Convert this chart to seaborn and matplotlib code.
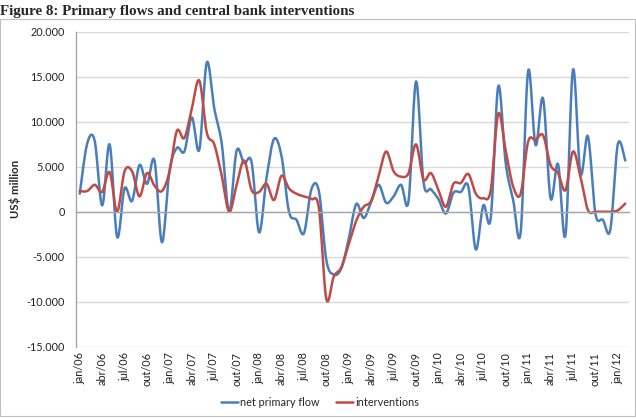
import numpy as np
import pandas as pd
import matplotlib
matplotlib.use("Agg")
import matplotlib.pyplot as plt
from matplotlib.lines import Line2D
from matplotlib.patches import Rectangle
import seaborn as sns

# ---- data (monthly, jan/06 .. feb/12), US$ million ----
net_primary_flow = [
    2000, 7600, 7900, 700, 7500, -2800, 2600, 1200, 5200, 3100, 5700, -3400,
    4500, 7100, 6700, 10500, 6900, 16600, 11500, 7600, 0, 6800, 5400, 5500,
    -2300, 3800, 8100, 6200, 0, -900, -2400, 2500, 2300, -5400, -7000, -6300,
    -3000, 850, -700, 1100, 3000, 1000, 1700, 3000, 1200, 14500, 3300, 2500,
    1400, -200, 2100, 2200, 2800, -4200, 700, -700, 13950, 5400, 1300, -2300,
    15650, 7400, 12600, 1500, 5300, -2600, 15800, 4250, 8400, -200, -900, -2000,
    7500, 5700,
]
interventions = [
    2300, 2300, 3000, 2200, 4400, 0, 4500, 4500, 1700, 4300, 2900, 2300,
    4400, 9000, 8200, 11500, 14600, 8800, 7500, 4000, 0, 3000, 5700, 2400,
    2200, 3100, 1300, 4000, 2600, 2000, 1700, 1400, 400, -9700, -7200, -6200,
    -3600, -1000, 550, 1200, 4000, 6700, 4500, 3900, 4300, 7500, 3600, 4300,
    2400, 550, 3100, 3200, 4200, 2000, 1500, 2400, 10900, 6800, 2800, 2000,
    7800, 8000, 8500, 5200, 4300, 2400, 6700, 3900, 200, 0, 0, 0,
    150, 900,
]
tick_labels = [
    "jan/06", "abr/06", "jul/06", "out/06", "jan/07", "abr/07", "jul/07", "out/07",
    "jan/08", "abr/08", "jul/08", "out/08", "jan/09", "abr/09", "jul/09", "out/09",
    "jan/10", "abr/10", "jul/10", "out/10", "jan/11", "abr/11", "jul/11", "out/11",
    "jan/12",
]
series_names = ["net primary flow", "interventions"]
colors = ["#4A7EBB", "#BE4B48"]


def smooth(y, n=16):
    """Excel-like smoothed line (Bezier with Catmull-Rom control points)."""
    x = np.arange(len(y), dtype=float)
    p = np.column_stack([x, np.asarray(y, dtype=float)])
    out = []
    t = np.linspace(0, 1, n, endpoint=False)[:, None]
    for i in range(len(p) - 1):
        p0 = p[i - 1] if i > 0 else p[i]
        p1, p2 = p[i], p[i + 1]
        p3 = p[i + 2] if i + 2 < len(p) else p[i + 1]
        c1 = p1 + (p2 - p0) / 6.0
        c2 = p2 - (p3 - p1) / 6.0
        seg = ((1 - t) ** 3) * p1 + 3 * ((1 - t) ** 2) * t * c1 + 3 * (1 - t) * t ** 2 * c2 + t ** 3 * p2
        out.append(seg)
    out.append(p[-1][None, :])
    return np.vstack(out)


frames = []
for name, vals in zip(series_names, [net_primary_flow, interventions]):
    s = smooth(vals)
    frames.append(pd.DataFrame({"x": s[:, 0], "y": s[:, 1], "series": name,
                                "order": np.arange(len(s))}))
df = pd.concat(frames, ignore_index=True)

sns.set_style("white")
plt.rcParams["font.family"] = ["Lato", "DejaVu Sans"]

fig = plt.figure(figsize=(6.36, 4.19), dpi=100)
ax = fig.add_axes([76 / 636, 1 - 346.5 / 419, (629 - 76) / 636, (346.5 - 32) / 419])

sns.lineplot(data=df, x="x", y="y", hue="series", palette=colors, estimator=None,
             sort=False, units="series", linewidth=1.8, ax=ax, legend=False)

n = len(net_primary_flow)
ax.set_xlim(-0.5, n - 0.5)
ax.set_ylim(-15000, 20000)
ax.set_yticks(np.arange(-15000, 20001, 5000))
ax.set_yticklabels([f"{v:,.0f}".replace(",", ".") for v in np.arange(-15000, 20001, 5000)],
                   fontsize=7.8, color="#222222")
ax.yaxis.grid(True, color="#D9D9D9", linewidth=1.0)
ax.xaxis.grid(False)
ax.set_axisbelow(True)

# category axis crossing at zero
ax.spines["bottom"].set_position(("data", 0))
for sp in ["top", "right"]:
    ax.spines[sp].set_visible(False)
for sp in ["bottom", "left"]:
    ax.spines[sp].set_color("#A6A6A6")
    ax.spines[sp].set_linewidth(1.0)

ax.set_xticks(np.arange(0, n, 3))
ax.set_xticklabels(tick_labels, rotation=90, fontsize=7.8, color="#222222")
ax.set_xticks(np.arange(-0.5, n, 3), minor=True)
ax.tick_params(axis="x", which="major", length=0, pad=101)
ax.tick_params(axis="x", which="minor", length=4, color="#A6A6A6", direction="out")
ax.tick_params(axis="y", which="major", length=5, color="#A6A6A6", direction="out", pad=3)

ax.set_xlabel("")
ax.set_ylabel("US$ million", fontsize=8.2, fontweight="bold", labelpad=4)

fig.text(0.0, 1 - 11 / 419, "Figure 8: Primary flows and central bank interventions",
         fontsize=10.8, fontweight="bold", family="Liberation Serif", va="center", ha="left")

handles = [Line2D([0], [0], color=c, lw=1.8) for c in colors]
fig.legend(handles, series_names, loc="center", bbox_to_anchor=(320 / 636, 1 - 402 / 419),
           ncol=2, frameon=False, fontsize=7.8, handlelength=1.6, handletextpad=0.2,
           columnspacing=1.5)

fig.patches.append(Rectangle((0.0, 1 - 416 / 419), 0.999, (416 - 19) / 419,
                             transform=fig.transFigure, fill=False,
                             edgecolor="#BFBFBF", linewidth=0.8))

fig.savefig("out.png", dpi=100)
